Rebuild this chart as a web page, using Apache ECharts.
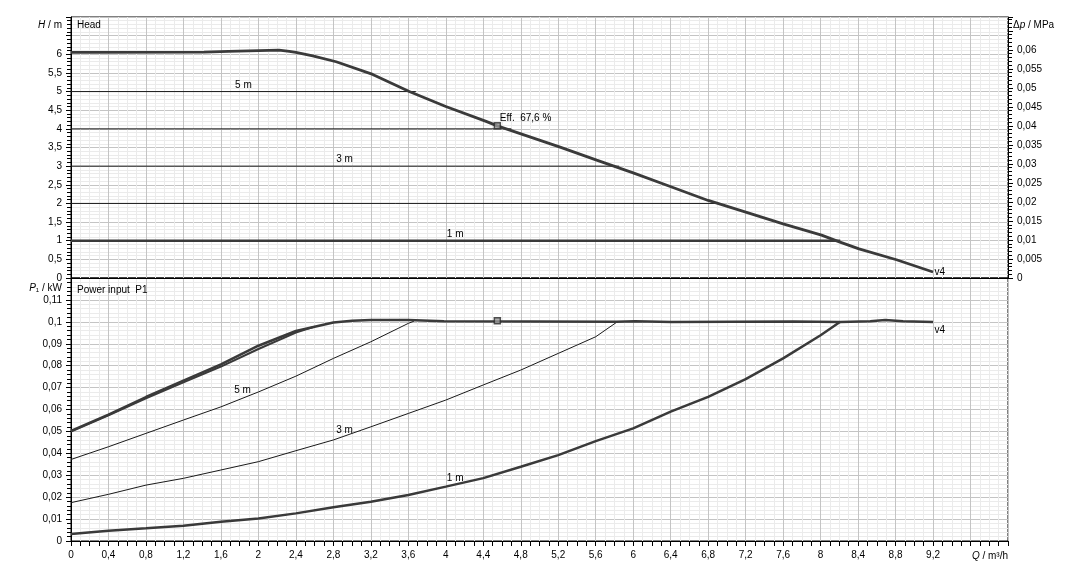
<!DOCTYPE html>
<html><head><meta charset="utf-8">
<script src="https://cdn.jsdelivr.net/npm/echarts@6/dist/echarts.min.js"></script>
<style>html,body{margin:0;padding:0;background:#fff}#c{width:1081px;height:577px}</style>
</head><body><div id="c"></div>
<script>
// ---------- data (Q in m³/h) ----------
const headV4 = [[0,6.05],[0.21,6.05],[0.22,6.06],[1.42,6.06],[1.43,6.08],[1.68,6.08],[1.69,6.11],[2.22,6.11],[2.23,6.08],[2.33,6.08],[2.4,6.05],[2.58,5.96],[2.83,5.8],[3.22,5.46],[3.61,5.0],[4.0,4.6],[4.43,4.2],[4.55,4.08],[4.81,3.86],[5.22,3.51],[5.61,3.16],[6.0,2.82],[6.41,2.44],[6.8,2.08],[7.21,1.76],[7.6,1.45],[8.01,1.15],[8.2,0.97],[8.41,0.78],[8.81,0.49],[9.2,0.16]];
const headLevels = [5, 4, 3, 2, 1];           // constant head setpoints (m)
const headLevelEndQ = [3.68, 4.7, 5.85, 6.92, 8.21];
const powerV4 = [[0,0.0502],[0.4,0.0577],[0.8,0.0657],[1.2,0.0732],[1.6,0.0806],[2.0,0.0891],[2.4,0.0958],[2.8,0.0997],[3.0,0.1005],[3.2,0.1008],[3.6,0.1008],[3.62,0.1003],[3.98,0.1003],[4.0,0.1],[5.82,0.1],[5.83,0.1003],[6.02,0.1003],[6.03,0.0999],[6.41,0.0999],[6.42,0.1002],[7.71,0.1002],[7.72,0.0999],[8.21,0.0999],[8.22,0.1003],[8.53,0.1003],[8.55,0.1008],[8.69,0.1008],[8.71,0.1003],[8.88,0.1003],[8.9,0.0999],[9.2,0.0999]];
const powerV4b = [[0,0.0499],[0.4,0.0573],[0.8,0.0651],[1.2,0.0724],[1.6,0.0796],[2.0,0.0876],[2.4,0.0951],[2.6,0.0978]];
const power5m = [[0,0.0372],[0.4,0.043],[0.8,0.0491],[1.2,0.0552],[1.6,0.0612],[2.0,0.068],[2.4,0.0752],[2.8,0.0833],[3.2,0.0909],[3.6,0.0993],[3.66,0.1003]];
const power3m = [[0,0.0175],[0.4,0.0213],[0.8,0.0255],[1.2,0.0286],[1.6,0.0324],[2.0,0.0362],[2.4,0.0412],[2.8,0.0461],[3.2,0.0521],[3.6,0.0582],[4.0,0.0643],[4.4,0.0712],[4.8,0.078],[5.2,0.0856],[5.6,0.0932],[5.83,0.1]];
const power1m = [[0,0.0032],[0.4,0.0047],[0.8,0.0058],[1.2,0.007],[1.6,0.0088],[2.0,0.0103],[2.4,0.0126],[2.8,0.0154],[3.2,0.0179],[3.6,0.021],[4.0,0.0248],[4.4,0.0287],[4.8,0.0339],[5.2,0.0392],[5.6,0.0456],[6.0,0.0514],[6.4,0.059],[6.8,0.0658],[7.2,0.0739],[7.6,0.0833],[8.0,0.0939],[8.21,0.1]];
const effPoint = {q: 4.55, h: 4.08, p: 0.1005, text: 'Eff.  67,6 %'};
const headLabels = [{q:1.84, h:5, text:'5 m'}, {q:2.92, h:3, text:'3 m'}, {q:4.1, h:1, text:'1 m'}];
const powerLabels = [{q:1.83, p:0.0689, text:'5 m'}, {q:2.92, p:0.0506, text:'3 m'}, {q:4.1, p:0.0287, text:'1 m'}];
const curveName = 'v4';
// axis ranges
const qMax = 10, qStep = 0.4, qLastLabel = 9.2;
const hMax = 7, hStep = 0.5, hLastLabel = 6;
const dpMax = hMax * 0.00980665, dpStep = 0.005, dpLastLabel = 0.06;
const pMax = 0.12, pStep = 0.01, pLastLabel = 0.11;

// ---------- styling ----------
const FONT = 'Liberation Sans, Arial, sans-serif';
const FS = 10;
const CURVE = '#3a3a3a';
const THIN = '#1a1a1a';
const GRID = '#c4c4c4';
const MINOR = '#ebebeb';

const fmt = (limit) => (v) => v > limit + 1e-9 ? '' : String(+v.toFixed(4)).replace('.', ',');

function xAxis(gi, showLabels) {
  return {
    type: 'value', gridIndex: gi, min: 0, max: qMax, interval: qStep,
    axisLine: {show: true, onZero: false, lineStyle: {color: '#000', width: 1}},
    axisTick: {show: showLabels, length: 5, lineStyle: {color: '#000'}},
    minorTick: {show: showLabels, splitNumber: 4, length: 5, lineStyle: {color: '#000'}},
    axisLabel: {show: showLabels, formatter: fmt(qLastLabel), color: '#000', fontSize: FS, fontFamily: FONT, margin: 9},
    splitLine: {show: true, lineStyle: {color: GRID, width: 1}},
    minorSplitLine: {show: true, lineStyle: {color: MINOR, width: 1}}
  };
}
function yAxis(gi, pos, min, max, step, last, split) {
  return {
    type: 'value', gridIndex: gi, position: pos, min: min, max: max, interval: step,
    axisLine: {show: true, onZero: false, lineStyle: {color: '#000', width: 1}},
    axisTick: {show: true, length: 5, lineStyle: {color: '#000'}},
    minorTick: {show: true, splitNumber: 5, length: 4, lineStyle: {color: '#000'}},
    axisLabel: {formatter: fmt(last), color: '#000', fontSize: FS, fontFamily: FONT, margin: 9},
    splitLine: {show: split, lineStyle: {color: GRID, width: 1}},
    minorSplitLine: {show: split, lineStyle: {color: MINOR, width: 1}}
  };
}
const lbl = (extra) => Object.assign({show: true, color: '#000', fontSize: FS, fontFamily: FONT}, extra);
function line(data, xi, yi, width, color, extra) {
  return Object.assign({type: 'line', xAxisIndex: xi, yAxisIndex: yi, data: data, showSymbol: false, symbol: 'none',
    silent: true, animation: false, lineStyle: {width: width, color: color}, z: 3}, extra || {});
}
function marks(items) {
  return {symbol: 'circle', symbolSize: 1, silent: true, animation: false, itemStyle: {color: 'rgba(0,0,0,0)'}, data: items};
}

const series = [];
// constant head lines
headLevels.forEach((h, i) => {
  const thick = h === 1;
  const s = line([[0, h], [headLevelEndQ[i], h]], 0, 0, thick ? 2.5 : 1, thick ? CURVE : THIN);
  const lab = headLabels.find(l => l.h === h);
  if (lab) s.markPoint = marks([{coord: [lab.q, lab.h], label: lbl({formatter: lab.text, position: 'top', distance: 1})}]);
  series.push(s);
});
// head curve
const headEnd = headV4[headV4.length - 1];
series.push(line(headV4, 0, 0, 2.8, CURVE, {z: 4, markPoint: marks([
  {coord: headEnd, label: lbl({formatter: curveName, position: 'right', distance: 1})},
  {coord: [effPoint.q, effPoint.h], label: lbl({formatter: effPoint.text, position: 'right', distance: 2, offset: [0, -8]})}
])}));
series.push({type: 'scatter', xAxisIndex: 0, yAxisIndex: 0, data: [[effPoint.q, effPoint.h]], symbol: 'rect', symbolSize: 6,
  silent: true, animation: false, z: 5, itemStyle: {color: '#9a9a9a', borderColor: '#2a2a2a', borderWidth: 1.5}});
// power curves
const pEnd = powerV4[powerV4.length - 1];
series.push(line(powerV4, 1, 2, 2.5, CURVE, {z: 4, markPoint: marks([
  {coord: pEnd, label: lbl({formatter: curveName, position: 'right', distance: 1, offset: [0, 8]})}
])}));
series.push(line(powerV4b, 1, 2, 2, CURVE, {z: 4}));
[[power5m, 1, THIN, 0], [power3m, 1, THIN, 1], [power1m, 2.5, CURVE, 2]].forEach(([d, w, c, i]) => {
  const lab = powerLabels[i];
  series.push(line(d, 1, 2, w, c, {markPoint: marks([{coord: [lab.q, lab.p], label: lbl({formatter: lab.text, position: 'inside'})}])}));
});
series.push({type: 'scatter', xAxisIndex: 1, yAxisIndex: 2, data: [[effPoint.q, effPoint.p]], symbol: 'rect', symbolSize: 6,
  silent: true, animation: false, z: 5, itemStyle: {color: '#9a9a9a', borderColor: '#2a2a2a', borderWidth: 1.5}});

const rich = {
  n: {fontSize: FS, fontFamily: FONT, fill: '#000', fontStyle: 'normal'},
  i: {fontSize: FS, fontFamily: FONT, fill: '#000', fontStyle: 'italic'}
};
function txt(text, x, y, align) {
  return {type: 'text', x: x, y: y, silent: true, z: 10,
    style: {text: text, rich: rich, fontSize: FS, fontFamily: FONT, fill: '#000', align: align, verticalAlign: 'middle'}};
}

const chart = echarts.init(document.getElementById('c'), null, {renderer: 'canvas'});
chart.setOption({
  backgroundColor: '#fff',
  animation: false,
  textStyle: {fontFamily: FONT},
  grid: [
    {left: 71, width: 937, top: 17, height: 261, show: true, borderColor: '#000', borderWidth: 1, backgroundColor: 'transparent'},
    {left: 71, width: 937, top: 278, height: 263, show: true, borderColor: '#000', borderWidth: 1, backgroundColor: 'transparent'}
  ],
  xAxis: [xAxis(0, false), xAxis(1, true)],
  yAxis: [
    yAxis(0, 'left', 0, hMax, hStep, hLastLabel, true),
    yAxis(0, 'right', 0, dpMax, dpStep, dpLastLabel, false),
    yAxis(1, 'left', 0, pMax, pStep, pLastLabel, true)
  ],
  graphic: [
    txt('{i|H}{n| / m}', 62, 25, 'right'),
    txt('{n|Head}', 77, 25, 'left'),
    txt('{n|Δ}{i|p}{n| / MPa}', 1013, 25, 'left'),
    txt('{i|P}{n|₁ / kW}', 62, 288, 'right'),
    txt('{n|Power input  P1}', 77, 290, 'left'),
    txt('{i|Q}{n| / m³/h}', 1008, 556, 'right')
  ],
  series: series
});
</script></body></html>
